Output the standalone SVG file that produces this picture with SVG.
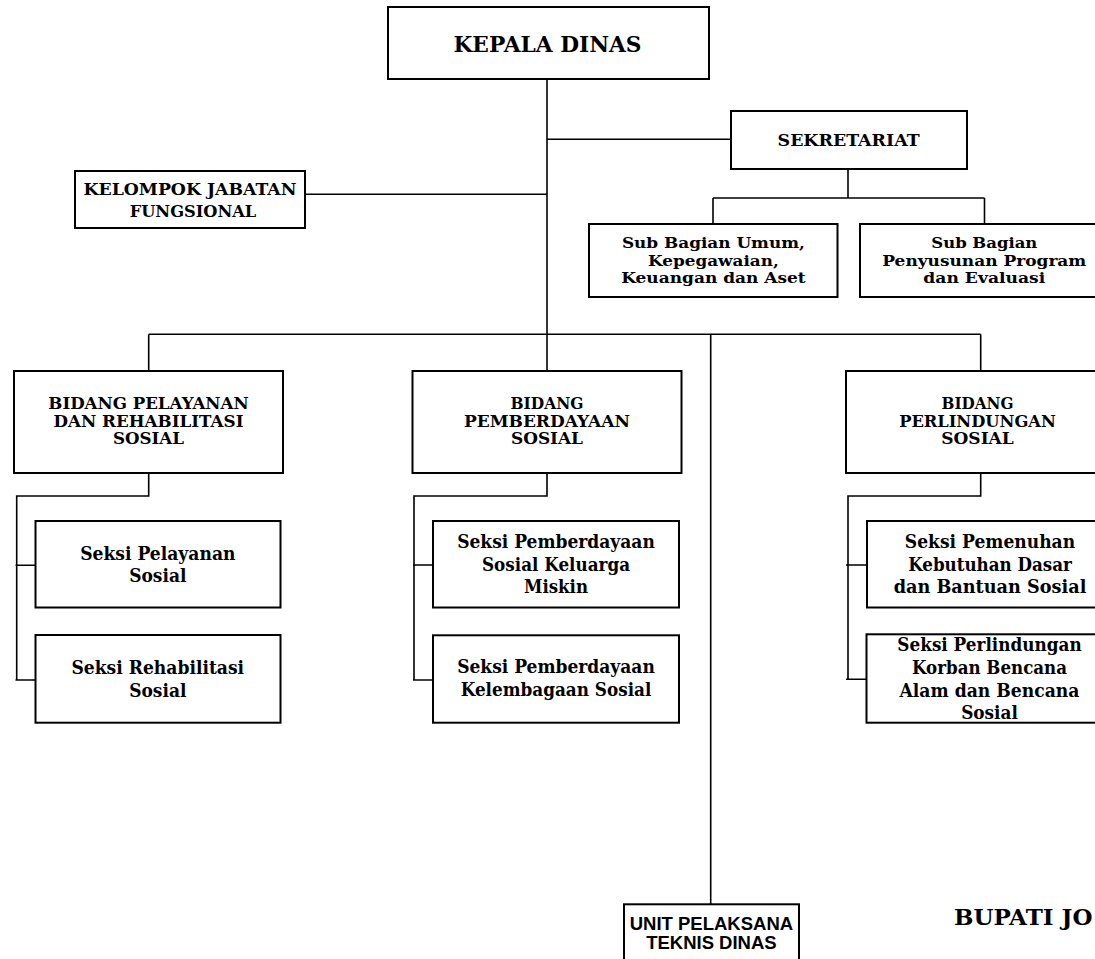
<svg xmlns="http://www.w3.org/2000/svg" width="1095" height="959" viewBox="0 0 1095 959">
<style>
.box{fill:#fff;stroke:#000;stroke-width:2}
.ln{fill:none;stroke:#000;stroke-width:1.6}
text{font-family:"DejaVu Serif","Liberation Serif",serif;font-weight:bold;fill:#000;text-anchor:middle}
.t24{font-size:23px}
.t18{font-size:16.5px}
.tbd{font-size:15.8px}
.ts{font-size:18px}
.tb{font-size:15.5px}
.ta{font-family:"Liberation Sans",Arial,sans-serif;font-size:18.5px}
</style>
<rect width="1095" height="959" fill="#fff"/>
<g id="connectors">
<path class="ln" d="M547 79V371"/>
<path class="ln" d="M547 139.3H731"/>
<path class="ln" d="M305 194.3H547"/>
<path class="ln" d="M848 169V198M713 198H984.5M713 198V224M984.5 198V224"/>
<path class="ln" d="M148.7 334.3H980.7M148.7 334.3V371M980.7 334.3V371"/>
<path class="ln" d="M710.7 334.3V904.3"/>
<path class="ln" d="M148.7 473V496H16.7V680M15.5 565.3H35.5M15.5 680H35.5"/>
<path class="ln" d="M547 473V496H414V680M413 565H433M413 680H433"/>
<path class="ln" d="M980.7 473V496H848V679.3M846 565H867M846 679.3H866.5"/>
</g>
<g id="kepala-dinas">
<rect class="box" x="388" y="7" width="321" height="72"/>
<text class="t24" x="547.5" y="51.7" textLength="188" lengthAdjust="spacingAndGlyphs">KEPALA DINAS</text>
</g>
<g id="sekretariat">
<rect class="box" x="731" y="111" width="236" height="58"/>
<text class="t18" x="848.6" y="146" textLength="142" lengthAdjust="spacingAndGlyphs">SEKRETARIAT</text>
</g>
<g id="kelompok-jabatan-fungsional">
<rect class="box" x="75" y="171" width="230" height="57"/>
<text class="t18" x="190" y="195" textLength="213" lengthAdjust="spacingAndGlyphs">KELOMPOK JABATAN</text>
<text class="t18" x="193" y="217" textLength="126.6" lengthAdjust="spacingAndGlyphs">FUNGSIONAL</text>
</g>
<g id="sub-bagian-umum">
<rect class="box" x="589" y="224" width="248.5" height="73"/>
<text class="tb" x="713.4" y="248" textLength="183" lengthAdjust="spacingAndGlyphs">Sub Bagian Umum,</text>
<text class="tb" x="713.4" y="265.5" textLength="130.7" lengthAdjust="spacingAndGlyphs">Kepegawaian,</text>
<text class="tb" x="713.4" y="283" textLength="184.5" lengthAdjust="spacingAndGlyphs">Keuangan dan Aset</text>
</g>
<g id="sub-bagian-penyusunan">
<rect class="box" x="860" y="224" width="249" height="73"/>
<text class="tb" x="984.3" y="248" textLength="106" lengthAdjust="spacingAndGlyphs">Sub Bagian</text>
<text class="tb" x="984.3" y="265.5" textLength="204" lengthAdjust="spacingAndGlyphs">Penyusunan Program</text>
<text class="tb" x="984.3" y="283" textLength="122" lengthAdjust="spacingAndGlyphs">dan Evaluasi</text>
</g>
<g id="bidang-pelayanan">
<rect class="box" x="14" y="371" width="269" height="102"/>
<text class="tbd" x="148.5" y="409.3" textLength="200.3" lengthAdjust="spacingAndGlyphs">BIDANG PELAYANAN</text>
<text class="tbd" x="148.5" y="426.8" textLength="190" lengthAdjust="spacingAndGlyphs">DAN REHABILITASI</text>
<text class="tbd" x="148.5" y="444.3" textLength="71" lengthAdjust="spacingAndGlyphs">SOSIAL</text>
</g>
<g id="bidang-pemberdayaan">
<rect class="box" x="412.5" y="371" width="269" height="102"/>
<text class="tbd" x="547" y="409.3" textLength="73" lengthAdjust="spacingAndGlyphs">BIDANG</text>
<text class="tbd" x="547" y="426.8" textLength="166" lengthAdjust="spacingAndGlyphs">PEMBERDAYAAN</text>
<text class="tbd" x="547" y="444.3" textLength="72" lengthAdjust="spacingAndGlyphs">SOSIAL</text>
</g>
<g id="bidang-perlindungan">
<rect class="box" x="846" y="371" width="269" height="102"/>
<text class="tbd" x="977.5" y="409.3" textLength="72" lengthAdjust="spacingAndGlyphs">BIDANG</text>
<text class="tbd" x="977.5" y="426.8" textLength="156.7" lengthAdjust="spacingAndGlyphs">PERLINDUNGAN</text>
<text class="tbd" x="977.5" y="444.3" textLength="72.5" lengthAdjust="spacingAndGlyphs">SOSIAL</text>
</g>
<g id="seksi-pelayanan">
<rect class="box" x="35.5" y="521" width="245" height="86.5"/>
<text class="ts" x="157.8" y="560" textLength="155.3" lengthAdjust="spacingAndGlyphs">Seksi Pelayanan</text>
<text class="ts" x="157.8" y="581.7" textLength="57.3" lengthAdjust="spacingAndGlyphs">Sosial</text>
</g>
<g id="seksi-rehabilitasi">
<rect class="box" x="35.5" y="635" width="245" height="87.7"/>
<text class="ts" x="157.8" y="674" textLength="172.7" lengthAdjust="spacingAndGlyphs">Seksi Rehabilitasi</text>
<text class="ts" x="157.8" y="696.7" textLength="57.3" lengthAdjust="spacingAndGlyphs">Sosial</text>
</g>
<g id="seksi-pemberdayaan-keluarga-miskin">
<rect class="box" x="433" y="521" width="246" height="86.5"/>
<text class="ts" x="556" y="548.3" textLength="197.7" lengthAdjust="spacingAndGlyphs">Seksi Pemberdayaan</text>
<text class="ts" x="556" y="571" textLength="148" lengthAdjust="spacingAndGlyphs">Sosial Keluarga</text>
<text class="ts" x="556" y="593.3" textLength="64" lengthAdjust="spacingAndGlyphs">Miskin</text>
</g>
<g id="seksi-pemberdayaan-kelembagaan">
<rect class="box" x="433" y="635.3" width="246" height="87.4"/>
<text class="ts" x="556" y="673.3" textLength="197.7" lengthAdjust="spacingAndGlyphs">Seksi Pemberdayaan</text>
<text class="ts" x="556" y="696" textLength="190.7" lengthAdjust="spacingAndGlyphs">Kelembagaan Sosial</text>
</g>
<g id="seksi-pemenuhan">
<rect class="box" x="867" y="521" width="246" height="86.5"/>
<text class="ts" x="990" y="548.3" textLength="170.3" lengthAdjust="spacingAndGlyphs">Seksi Pemenuhan</text>
<text class="ts" x="990" y="570.7" textLength="163.7" lengthAdjust="spacingAndGlyphs">Kebutuhan Dasar</text>
<text class="ts" x="990" y="593.3" textLength="192.7" lengthAdjust="spacingAndGlyphs">dan Bantuan Sosial</text>
</g>
<g id="seksi-perlindungan">
<rect class="box" x="866.5" y="634.3" width="246" height="88.4"/>
<text class="ts" x="989.5" y="650.7" textLength="184.3" lengthAdjust="spacingAndGlyphs">Seksi Perlindungan</text>
<text class="ts" x="989.5" y="674" textLength="155" lengthAdjust="spacingAndGlyphs">Korban Bencana</text>
<text class="ts" x="989.5" y="697.3" textLength="180" lengthAdjust="spacingAndGlyphs">Alam dan Bencana</text>
<text class="ts" x="989.5" y="719.3" textLength="56.7" lengthAdjust="spacingAndGlyphs">Sosial</text>
</g>
<g id="upt-dinas">
<rect class="box" x="624" y="904.3" width="175" height="70"/>
<text class="ta" x="711.4" y="930">UNIT PELAKSANA</text>
<text class="ta" x="711.4" y="949.3">TEKNIS DINAS</text>
</g>
<text class="t24" x="954" y="925" style="text-anchor:start">BUPATI JO</text>
</svg>
